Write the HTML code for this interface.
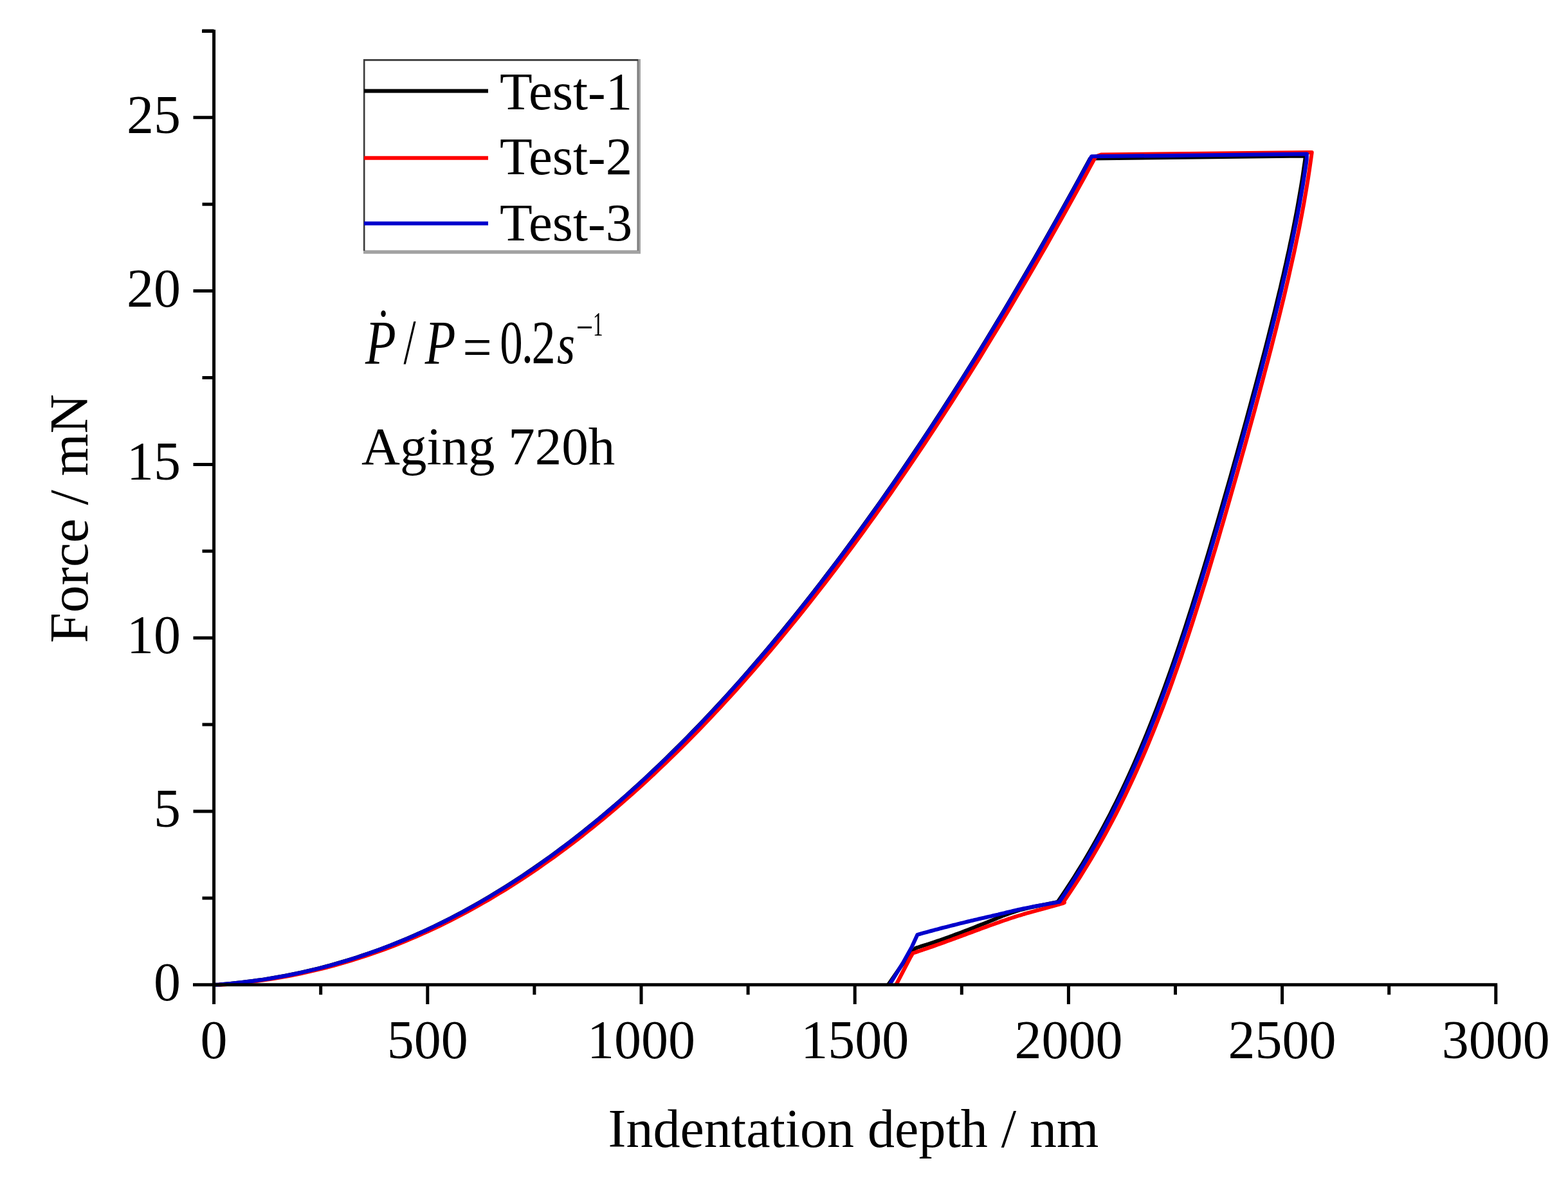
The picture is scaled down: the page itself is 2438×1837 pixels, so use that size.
<!DOCTYPE html>
<html><head><meta charset="utf-8"><title>Force vs indentation depth</title>
<style>html,body{margin:0;padding:0;background:#fff;}svg{display:block;}</style>
</head><body>
<svg width="2438" height="1837" viewBox="0 0 2438 1837">
<rect width="2438" height="1837" fill="#fff"/>
<g fill="none" stroke-width="6" stroke-linejoin="round" stroke-linecap="butt">
<path stroke="#000" d="M332.1 1531.8L340.7 1531.5L349.2 1530.8L357.8 1530.0L366.4 1529.1L375.0 1528.2L383.5 1527.1L392.1 1526.0L400.7 1524.8L409.2 1523.6L417.8 1522.2L426.4 1520.8L435.0 1519.3L443.5 1517.7L452.1 1516.0L460.7 1514.3L469.2 1512.4L477.8 1510.5L486.4 1508.4L495.0 1506.3L503.5 1504.1L512.1 1501.9L520.7 1499.5L529.2 1497.0L537.8 1494.5L546.4 1491.8L555.0 1489.1L563.5 1486.2L572.1 1483.3L580.7 1480.3L589.2 1477.2L597.8 1474.0L606.4 1470.7L615.0 1467.3L623.5 1463.8L632.1 1460.2L640.7 1456.5L649.2 1452.8L657.8 1448.9L666.4 1444.9L675.0 1440.9L683.5 1436.7L692.1 1432.4L700.7 1428.1L709.2 1423.6L717.8 1419.1L726.4 1414.4L735.0 1409.6L743.5 1404.8L752.1 1399.8L760.7 1394.8L769.2 1389.6L777.8 1384.4L786.4 1379.0L795.0 1373.6L803.5 1368.0L812.1 1362.4L820.7 1356.6L829.2 1350.8L837.8 1344.8L846.4 1338.8L855.0 1332.6L863.5 1326.4L872.1 1320.0L880.7 1313.6L889.2 1307.0L897.8 1300.3L906.4 1293.6L915.0 1286.7L923.5 1279.8L932.1 1272.7L940.7 1265.5L949.2 1258.3L957.8 1250.9L966.4 1243.4L975.0 1235.9L983.5 1228.2L992.1 1220.4L1000.7 1212.6L1009.2 1204.6L1017.8 1196.5L1026.4 1188.3L1035.0 1180.1L1043.5 1171.7L1052.1 1163.2L1060.7 1154.6L1069.2 1146.0L1077.8 1137.2L1086.4 1128.3L1095.0 1119.3L1103.5 1110.2L1112.1 1101.1L1120.7 1091.8L1129.3 1082.4L1137.8 1072.9L1146.4 1063.4L1155.0 1053.7L1163.5 1043.9L1172.1 1034.0L1180.7 1024.0L1189.3 1014.0L1197.8 1003.8L1206.4 993.5L1215.0 983.2L1223.5 972.7L1232.1 962.1L1240.7 951.4L1249.3 940.7L1257.8 929.8L1266.4 918.9L1275.0 907.8L1283.5 896.6L1292.1 885.4L1300.7 874.0L1309.3 862.6L1317.8 851.0L1326.4 839.4L1335.0 827.6L1343.5 815.8L1352.1 803.8L1360.7 791.8L1369.3 779.7L1377.8 767.4L1386.4 755.1L1395.0 742.7L1403.5 730.2L1412.1 717.5L1420.7 704.8L1429.3 692.0L1437.8 679.1L1446.4 666.1L1455.0 653.0L1463.5 639.8L1472.1 626.5L1480.7 613.1L1489.3 599.6L1497.8 586.0L1506.4 572.3L1515.0 558.5L1523.5 544.7L1532.1 530.7L1540.7 516.6L1549.3 502.4L1557.8 488.2L1566.4 473.8L1575.0 459.3L1583.5 444.8L1592.1 430.1L1600.7 415.3L1609.3 400.5L1617.8 385.5L1626.4 370.5L1635.0 355.3L1643.5 340.1L1652.1 324.7L1660.7 309.3L1669.3 293.7L1677.8 278.1L1686.4 262.3L1695.0 246.5L2027.0 242.5L2030.0 242.5L2028.6 252.3L2027.2 262.0L2025.8 271.8L2024.3 281.5L2022.7 291.3L2021.0 301.0L2019.3 310.8L2017.6 320.5L2015.8 330.3L2013.9 340.0L2012.0 349.8L2010.1 359.5L2008.1 369.3L2006.0 379.0L2004.0 388.8L2001.8 398.5L1999.7 408.3L1997.5 418.0L1995.3 427.8L1993.0 437.5L1990.8 447.3L1988.4 457.0L1986.1 466.8L1983.7 476.6L1981.4 486.3L1978.9 496.1L1976.5 505.8L1974.0 515.6L1971.6 525.3L1969.1 535.1L1966.6 544.8L1964.0 554.6L1961.5 564.3L1958.9 574.1L1956.4 583.8L1953.8 593.6L1951.2 603.3L1948.5 613.1L1945.9 622.8L1943.3 632.6L1940.6 642.3L1938.0 652.1L1935.3 661.8L1932.6 671.6L1929.9 681.3L1927.2 691.1L1924.5 700.8L1921.8 710.6L1919.0 720.4L1916.3 730.1L1913.6 739.9L1910.8 749.6L1908.0 759.4L1905.2 769.1L1902.4 778.9L1899.6 788.6L1896.8 798.4L1894.0 808.1L1891.2 817.9L1888.3 827.6L1885.4 837.4L1882.6 847.1L1879.7 856.9L1876.8 866.6L1873.8 876.4L1870.9 886.1L1867.9 895.9L1864.9 905.6L1861.9 915.4L1858.9 925.1L1855.8 934.9L1852.8 944.7L1849.6 954.4L1846.5 964.2L1843.4 973.9L1840.2 983.7L1836.9 993.4L1833.7 1003.2L1830.4 1012.9L1827.1 1022.7L1823.7 1032.4L1820.3 1042.2L1816.8 1051.9L1813.3 1061.7L1809.8 1071.4L1806.2 1081.2L1802.6 1090.9L1798.9 1100.7L1795.2 1110.4L1791.4 1120.2L1787.5 1129.9L1783.6 1139.7L1779.6 1149.4L1775.5 1159.2L1771.4 1168.9L1767.2 1178.7L1763.0 1188.5L1758.6 1198.2L1754.2 1208.0L1749.7 1217.7L1745.1 1227.5L1740.4 1237.2L1735.7 1247.0L1730.8 1256.7L1725.9 1266.5L1720.8 1276.2L1715.7 1286.0L1710.4 1295.7L1705.0 1305.5L1699.5 1315.2L1693.9 1325.0L1688.2 1334.7L1682.4 1344.5L1676.4 1354.2L1670.3 1364.0L1664.1 1373.7L1657.7 1383.5L1651.2 1393.2L1644.5 1403.0L1641.9 1403.5L1638.5 1404.2L1634.4 1405.0L1629.9 1405.9L1625.0 1406.9L1619.8 1407.9L1614.6 1409.0L1609.4 1410.0L1604.3 1411.1L1599.6 1412.1L1595.3 1413.1L1591.5 1414.0L1588.2 1414.9L1585.0 1415.7L1582.1 1416.6L1579.4 1417.4L1576.8 1418.3L1574.3 1419.1L1572.0 1419.9L1569.8 1420.7L1567.7 1421.4L1565.7 1422.2L1563.8 1422.8L1562.0 1423.5L1560.4 1424.1L1559.1 1424.5L1558.1 1424.9L1557.3 1425.3L1556.6 1425.6L1555.9 1425.9L1555.1 1426.2L1554.3 1426.6L1553.2 1427.0L1551.8 1427.6L1550.1 1428.3L1548.0 1429.2L1545.4 1430.2L1542.5 1431.4L1539.2 1432.7L1535.7 1434.2L1532.0 1435.7L1528.2 1437.2L1524.2 1438.8L1520.2 1440.4L1516.2 1442.0L1512.3 1443.6L1508.4 1445.1L1504.7 1446.5L1501.1 1447.9L1497.4 1449.3L1493.7 1450.7L1490.0 1452.1L1486.3 1453.4L1482.6 1454.8L1479.0 1456.2L1475.3 1457.5L1471.7 1458.8L1468.2 1460.1L1464.7 1461.3L1461.3 1462.5L1457.8 1463.7L1454.3 1464.9L1450.6 1466.1L1446.9 1467.3L1443.3 1468.5L1439.8 1469.7L1436.4 1470.7L1433.2 1471.7L1430.3 1472.7L1427.7 1473.5L1425.5 1474.2L1423.7 1474.8L1403.0 1500.0L1381.0 1531.8"/>
<path stroke="#f00" d="M339.1 1531.8L347.7 1531.5L356.3 1530.8L364.8 1530.0L373.4 1529.1L382.0 1528.1L390.6 1527.1L399.2 1526.0L407.8 1524.8L416.3 1523.6L424.9 1522.2L433.5 1520.8L442.1 1519.3L450.7 1517.7L459.2 1516.0L467.8 1514.2L476.4 1512.4L485.0 1510.4L493.6 1508.4L502.2 1506.3L510.7 1504.1L519.3 1501.8L527.9 1499.4L536.5 1496.9L545.1 1494.4L553.6 1491.7L562.2 1489.0L570.8 1486.1L579.4 1483.2L588.0 1480.2L596.6 1477.1L605.1 1473.9L613.7 1470.6L622.3 1467.2L630.9 1463.7L639.5 1460.1L648.0 1456.4L656.6 1452.6L665.2 1448.7L673.8 1444.7L682.4 1440.7L690.9 1436.5L699.5 1432.2L708.1 1427.8L716.7 1423.4L725.3 1418.8L733.9 1414.1L742.4 1409.4L751.0 1404.5L759.6 1399.6L768.2 1394.5L776.8 1389.3L785.3 1384.1L793.9 1378.7L802.5 1373.2L811.1 1367.7L819.7 1362.0L828.3 1356.2L836.8 1350.4L845.4 1344.4L854.0 1338.3L862.6 1332.2L871.2 1325.9L879.7 1319.5L888.3 1313.1L896.9 1306.5L905.5 1299.8L914.1 1293.0L922.7 1286.2L931.2 1279.2L939.8 1272.1L948.4 1264.9L957.0 1257.6L965.6 1250.3L974.1 1242.8L982.7 1235.2L991.3 1227.5L999.9 1219.7L1008.5 1211.8L1017.1 1203.8L1025.6 1195.7L1034.2 1187.5L1042.8 1179.2L1051.4 1170.9L1060.0 1162.4L1068.5 1153.8L1077.1 1145.1L1085.7 1136.3L1094.3 1127.4L1102.9 1118.4L1111.5 1109.3L1120.0 1100.1L1128.6 1090.8L1137.2 1081.4L1145.8 1071.9L1154.4 1062.3L1162.9 1052.6L1171.5 1042.8L1180.1 1032.9L1188.7 1022.9L1197.3 1012.8L1205.9 1002.6L1214.4 992.3L1223.0 981.9L1231.6 971.4L1240.2 960.8L1248.8 950.1L1257.3 939.3L1265.9 928.4L1274.5 917.4L1283.1 906.3L1291.7 895.2L1300.3 883.9L1308.8 872.5L1317.4 861.0L1326.0 849.4L1334.6 837.8L1343.2 826.0L1351.7 814.1L1360.3 802.2L1368.9 790.1L1377.5 777.9L1386.1 765.7L1394.6 753.3L1403.2 740.8L1411.8 728.3L1420.4 715.6L1429.0 702.9L1437.6 690.1L1446.1 677.1L1454.7 664.1L1463.3 650.9L1471.9 637.7L1480.5 624.4L1489.0 610.9L1497.6 597.4L1506.2 583.8L1514.8 570.1L1523.4 556.3L1532.0 542.3L1540.5 528.3L1549.1 514.2L1557.7 500.0L1566.3 485.7L1574.9 471.3L1583.4 456.8L1592.0 442.2L1600.6 427.5L1609.2 412.7L1617.8 397.8L1626.4 382.9L1634.9 367.8L1643.5 352.6L1652.1 337.3L1660.7 321.9L1669.3 306.4L1677.8 290.8L1686.4 275.2L1695.0 259.4L1703.6 243.5L1712.0 240.5L2039.0 237.0L2039.7 237.0L2038.4 246.8L2037.0 256.6L2035.6 266.4L2034.1 276.2L2032.5 286.0L2030.9 295.8L2029.2 305.6L2027.5 315.4L2025.7 325.2L2023.9 335.0L2022.0 344.8L2020.1 354.6L2018.1 364.4L2016.0 374.2L2014.0 384.0L2011.9 393.8L2009.7 403.6L2007.5 413.4L2005.3 423.2L2003.1 433.1L2000.8 442.9L1998.5 452.7L1996.2 462.5L1993.8 472.3L1991.4 482.1L1989.0 491.9L1986.5 501.7L1984.1 511.5L1981.6 521.3L1979.1 531.1L1976.6 540.9L1974.0 550.7L1971.5 560.5L1968.9 570.3L1966.3 580.1L1963.7 589.9L1961.1 599.7L1958.5 609.5L1955.9 619.3L1953.2 629.1L1950.6 638.9L1947.9 648.7L1945.2 658.5L1942.5 668.3L1939.8 678.1L1937.1 687.9L1934.4 697.7L1931.6 707.5L1928.9 717.3L1926.1 727.1L1923.4 736.9L1920.6 746.7L1917.8 756.5L1915.0 766.3L1912.2 776.1L1909.4 785.9L1906.6 795.7L1903.8 805.5L1900.9 815.3L1898.0 825.2L1895.2 835.0L1892.3 844.8L1889.4 854.6L1886.4 864.4L1883.5 874.2L1880.5 884.0L1877.6 893.8L1874.6 903.6L1871.5 913.4L1868.5 923.2L1865.4 933.0L1862.3 942.8L1859.2 952.6L1856.1 962.4L1852.9 972.2L1849.7 982.0L1846.5 991.8L1843.2 1001.6L1839.9 1011.4L1836.6 1021.2L1833.2 1031.0L1829.8 1040.8L1826.3 1050.6L1822.8 1060.4L1819.3 1070.2L1815.7 1080.0L1812.0 1089.8L1808.3 1099.6L1804.5 1109.4L1800.7 1119.2L1796.9 1129.0L1792.9 1138.8L1788.9 1148.6L1784.9 1158.4L1780.7 1168.2L1776.5 1178.0L1772.2 1187.8L1767.9 1197.6L1763.4 1207.4L1758.9 1217.3L1754.3 1227.1L1749.6 1236.9L1744.8 1246.7L1740.0 1256.5L1735.0 1266.3L1729.9 1276.1L1724.7 1285.9L1719.4 1295.7L1714.0 1305.5L1708.5 1315.3L1702.9 1325.1L1697.1 1334.9L1691.2 1344.7L1685.2 1354.5L1679.1 1364.3L1672.8 1374.1L1666.4 1383.9L1659.9 1393.7L1653.2 1403.5L1653.1 1403.6L1653.4 1403.6L1653.7 1403.6L1654.2 1403.6L1654.6 1403.7L1654.8 1403.8L1654.9 1403.9L1654.7 1404.1L1654.1 1404.4L1653.1 1404.8L1651.5 1405.3L1649.3 1406.0L1646.3 1406.9L1642.6 1407.9L1638.3 1409.1L1633.5 1410.4L1628.3 1411.8L1622.9 1413.3L1617.3 1414.8L1611.7 1416.3L1606.2 1417.8L1600.9 1419.3L1596.0 1420.7L1591.5 1422.0L1587.4 1423.3L1583.4 1424.5L1579.6 1425.7L1575.9 1426.9L1572.4 1428.0L1568.8 1429.2L1565.4 1430.4L1562.0 1431.5L1558.5 1432.7L1555.1 1433.9L1551.6 1435.2L1548.0 1436.4L1544.4 1437.7L1540.8 1439.0L1537.2 1440.3L1533.6 1441.6L1529.9 1442.9L1526.3 1444.3L1522.7 1445.6L1519.1 1446.9L1515.5 1448.3L1511.9 1449.6L1508.3 1451.0L1504.7 1452.3L1501.1 1453.6L1497.5 1455.0L1493.8 1456.3L1490.2 1457.7L1486.6 1459.0L1482.9 1460.3L1479.3 1461.7L1475.7 1463.0L1472.1 1464.3L1468.5 1465.6L1464.9 1466.9L1461.3 1468.2L1457.6 1469.5L1453.7 1470.9L1449.7 1472.3L1445.6 1473.7L1441.6 1475.1L1437.6 1476.4L1433.8 1477.8L1430.1 1479.0L1426.8 1480.1L1423.9 1481.1L1421.3 1482.0L1419.3 1482.7L1415.0 1490.0L1393.3 1531.8"/>
<path stroke="#00c" d="M332.6 1531.8L341.2 1531.5L349.8 1530.8L358.3 1530.0L366.9 1529.1L375.5 1528.1L384.1 1527.1L392.7 1526.0L401.3 1524.8L409.8 1523.6L418.4 1522.2L427.0 1520.8L435.6 1519.3L444.2 1517.7L452.8 1516.0L461.3 1514.2L469.9 1512.4L478.5 1510.4L487.1 1508.4L495.7 1506.3L504.2 1504.1L512.8 1501.8L521.4 1499.4L530.0 1496.9L538.6 1494.4L547.2 1491.7L555.7 1489.0L564.3 1486.1L572.9 1483.2L581.5 1480.2L590.1 1477.1L598.7 1473.8L607.2 1470.5L615.8 1467.1L624.4 1463.6L633.0 1460.1L641.6 1456.4L650.1 1452.6L658.7 1448.7L667.3 1444.7L675.9 1440.6L684.5 1436.5L693.1 1432.2L701.6 1427.8L710.2 1423.4L718.8 1418.8L727.4 1414.1L736.0 1409.4L744.6 1404.5L753.1 1399.5L761.7 1394.5L770.3 1389.3L778.9 1384.0L787.5 1378.7L796.0 1373.2L804.6 1367.7L813.2 1362.0L821.8 1356.2L830.4 1350.4L839.0 1344.4L847.5 1338.3L856.1 1332.1L864.7 1325.9L873.3 1319.5L881.9 1313.0L890.5 1306.5L899.0 1299.8L907.6 1293.0L916.2 1286.1L924.8 1279.1L933.4 1272.1L941.9 1264.9L950.5 1257.6L959.1 1250.2L967.7 1242.7L976.3 1235.1L984.9 1227.5L993.4 1219.7L1002.0 1211.8L1010.6 1203.8L1019.2 1195.7L1027.8 1187.5L1036.4 1179.2L1044.9 1170.8L1053.5 1162.3L1062.1 1153.7L1070.7 1145.0L1079.3 1136.2L1087.9 1127.3L1096.4 1118.3L1105.0 1109.2L1113.6 1100.0L1122.2 1090.7L1130.8 1081.3L1139.3 1071.8L1147.9 1062.2L1156.5 1052.5L1165.1 1042.7L1173.7 1032.8L1182.3 1022.8L1190.8 1012.7L1199.4 1002.5L1208.0 992.2L1216.6 981.8L1225.2 971.3L1233.8 960.7L1242.3 950.0L1250.9 939.2L1259.5 928.3L1268.1 917.3L1276.7 906.2L1285.2 895.1L1293.8 883.8L1302.4 872.4L1311.0 860.9L1319.6 849.3L1328.2 837.7L1336.7 825.9L1345.3 814.0L1353.9 802.0L1362.5 790.0L1371.1 777.8L1379.7 765.5L1388.2 753.2L1396.8 740.7L1405.4 728.2L1414.0 715.5L1422.6 702.8L1431.1 689.9L1439.7 677.0L1448.3 663.9L1456.9 650.8L1465.5 637.6L1474.1 624.2L1482.6 610.8L1491.2 597.3L1499.8 583.6L1508.4 569.9L1517.0 556.1L1525.6 542.2L1534.1 528.2L1542.7 514.1L1551.3 499.9L1559.9 485.6L1568.5 471.1L1577.0 456.6L1585.6 442.0L1594.2 427.4L1602.8 412.6L1611.4 397.7L1620.0 382.7L1628.5 367.6L1637.1 352.4L1645.7 337.1L1654.3 321.7L1662.9 306.2L1671.5 290.6L1680.0 275.0L1688.6 259.2L1697.2 243.3L2032.0 239.5L2031.6 249.3L2030.2 259.0L2028.7 268.8L2027.2 278.6L2025.7 288.4L2024.0 298.1L2022.3 307.9L2020.6 317.7L2018.8 327.4L2017.0 337.2L2015.1 347.0L2013.1 356.7L2011.1 366.5L2009.1 376.3L2007.0 386.1L2004.9 395.8L2002.8 405.6L2000.6 415.4L1998.4 425.1L1996.1 434.9L1993.9 444.7L1991.6 454.5L1989.2 464.2L1986.9 474.0L1984.5 483.8L1982.1 493.5L1979.6 503.3L1977.2 513.1L1974.7 522.8L1972.2 532.6L1969.7 542.4L1967.2 552.2L1964.6 561.9L1962.1 571.7L1959.5 581.5L1956.9 591.2L1954.3 601.0L1951.7 610.8L1949.0 620.6L1946.4 630.3L1943.7 640.1L1941.1 649.9L1938.4 659.6L1935.7 669.4L1933.0 679.2L1930.3 688.9L1927.6 698.7L1924.9 708.5L1922.1 718.3L1919.4 728.0L1916.6 737.8L1913.9 747.6L1911.1 757.3L1908.3 767.1L1905.5 776.9L1902.7 786.7L1899.9 796.4L1897.1 806.2L1894.2 816.0L1891.4 825.7L1888.5 835.5L1885.6 845.3L1882.7 855.0L1879.8 864.8L1876.9 874.6L1873.9 884.4L1870.9 894.1L1868.0 903.9L1864.9 913.7L1861.9 923.4L1858.9 933.2L1855.8 943.0L1852.7 952.8L1849.5 962.5L1846.4 972.3L1843.2 982.1L1840.0 991.8L1836.7 1001.6L1833.4 1011.4L1830.1 1021.1L1826.7 1030.9L1823.3 1040.7L1819.9 1050.5L1816.4 1060.2L1812.8 1070.0L1809.2 1079.8L1805.6 1089.5L1801.9 1099.3L1798.2 1109.1L1794.4 1118.9L1790.5 1128.6L1786.6 1138.4L1782.6 1148.2L1778.6 1157.9L1774.5 1167.7L1770.3 1177.5L1766.0 1187.2L1761.7 1197.0L1757.2 1206.8L1752.7 1216.6L1748.2 1226.3L1743.5 1236.1L1738.7 1245.9L1733.9 1255.6L1728.9 1265.4L1723.9 1275.2L1718.7 1285.0L1713.4 1294.7L1708.1 1304.5L1702.6 1314.3L1697.0 1324.0L1691.3 1333.8L1685.4 1343.6L1679.4 1353.3L1673.3 1363.1L1667.1 1372.9L1660.7 1382.7L1654.2 1392.4L1647.6 1402.2L1647.5 1402.7L1643.8 1403.4L1639.5 1404.2L1634.6 1405.1L1629.3 1406.1L1623.7 1407.1L1617.9 1408.2L1612.2 1409.3L1606.5 1410.3L1601.1 1411.4L1596.1 1412.4L1591.5 1413.3L1587.3 1414.2L1583.4 1415.0L1579.5 1415.9L1575.9 1416.7L1572.3 1417.6L1568.8 1418.4L1565.3 1419.2L1561.9 1420.1L1558.5 1420.9L1555.1 1421.7L1551.6 1422.6L1548.0 1423.4L1544.4 1424.2L1540.8 1425.1L1537.2 1425.9L1533.6 1426.7L1529.9 1427.6L1526.3 1428.4L1522.7 1429.2L1519.1 1430.1L1515.5 1430.9L1511.9 1431.8L1508.3 1432.6L1504.7 1433.5L1501.1 1434.4L1497.4 1435.3L1493.7 1436.2L1489.9 1437.1L1486.2 1438.1L1482.5 1439.0L1478.8 1439.9L1475.1 1440.8L1471.5 1441.8L1468.0 1442.7L1464.6 1443.5L1461.3 1444.4L1458.0 1445.3L1454.6 1446.2L1451.2 1447.1L1447.8 1448.0L1444.4 1448.9L1441.2 1449.8L1438.1 1450.6L1435.2 1451.4L1432.6 1452.1L1430.2 1452.8L1428.2 1453.4L1426.5 1453.8L1417.9 1472.6L1403.4 1498.6L1383.1 1531.8"/>
</g>
<path fill="none" stroke="#000" stroke-width="5" d="M332.6 46.2 V1562 M300 1531.8 H2328.2 M314 48.4 H332.6 M332.6 1531.8 V1562 M664.8 1531.8 V1562 M997.0 1531.8 V1562 M1329.2 1531.8 V1562 M1661.4 1531.8 V1562 M1993.6 1531.8 V1562 M2325.8 1531.8 V1562 M498.7 1531.8 V1547.3 M830.9 1531.8 V1547.3 M1163.1 1531.8 V1547.3 M1495.3 1531.8 V1547.3 M1827.5 1531.8 V1547.3 M2159.7 1531.8 V1547.3 M300.5 1531.8 H332.6 M300.5 1262.0 H332.6 M300.5 992.2 H332.6 M300.5 722.4 H332.6 M300.5 452.6 H332.6 M300.5 182.8 H332.6 M314.5 1396.9 H332.6 M314.5 1127.1 H332.6 M314.5 857.3 H332.6 M314.5 587.5 H332.6 M314.5 317.7 H332.6 M314.5 47.9 H332.6"/>
<g font-family="'Liberation Serif','Times New Roman',serif" font-size="84" fill="#000">
<text x="281" y="1555.8" text-anchor="end">0</text>
<text x="281" y="1286.0" text-anchor="end">5</text>
<text x="281" y="1016.2" text-anchor="end">10</text>
<text x="281" y="746.4" text-anchor="end">15</text>
<text x="281" y="476.6" text-anchor="end">20</text>
<text x="281" y="206.8" text-anchor="end">25</text>
<text x="332.6" y="1645.5" text-anchor="middle">0</text>
<text x="664.8" y="1645.5" text-anchor="middle">500</text>
<text x="997.0" y="1645.5" text-anchor="middle">1000</text>
<text x="1329.2" y="1645.5" text-anchor="middle">1500</text>
<text x="1661.4" y="1645.5" text-anchor="middle">2000</text>
<text x="1993.6" y="1645.5" text-anchor="middle">2500</text>
<text x="2325.8" y="1645.5" text-anchor="middle">3000</text>
</g>
<text font-family="'Liberation Serif','Times New Roman',serif" font-size="84" x="1327" y="1784" text-anchor="middle">Indentation depth / nm</text>
<text font-family="'Liberation Serif','Times New Roman',serif" font-size="85" transform="translate(135.6 806.6) rotate(-90)" text-anchor="middle">Force / mN</text>
<path fill="none" stroke="#a2a2a2" stroke-width="5.6" d="M565 392 H996 M993.2 92 V394.8"/>
<path fill="none" stroke="#7a7a7a" stroke-width="2.2" d="M992 92 V390"/>
<path fill="none" stroke="#3a3a3a" stroke-width="2.6" d="M566.2 390 V93.4 H992"/>
<g stroke-width="6">
<path stroke="#000" d="M566 141.4 H759"/>
<path stroke="#f00" d="M566 245.8 H759"/>
<path stroke="#00c" d="M566 347.4 H759"/>
</g>
<g font-family="'Liberation Serif','Times New Roman',serif" font-size="83" fill="#000">
<text x="777" y="169.9">Test-1</text>
<text x="777" y="271.4">Test-2</text>
<text x="777" y="374.3">Test-3</text>
</g>
<g font-family="'Liberation Serif','Times New Roman',serif" fill="#000">
<text transform="translate(568.09 565.80) scale(0.800 1)" font-size="97.7" font-style="italic">P</text>
<text transform="translate(584.33 546.78) scale(0.720 1)" font-size="98.0">&#729;</text>
<text transform="translate(627.40 565.00) scale(0.687 1)" font-size="100.0">/</text>
<text transform="translate(660.79 565.80) scale(0.800 1)" font-size="97.7" font-style="italic">P</text>
<text transform="translate(719.49 571.26) scale(0.872 1)" font-size="92.0">=</text>
<text transform="translate(777.36 564.85) scale(0.749 1)" font-size="94.7">0</text>
<text transform="translate(810.76 564.16) scale(0.750 1)" font-size="98.0">.</text>
<text transform="translate(826.55 565.00) scale(0.779 1)" font-size="95.6">2</text>
<text transform="translate(866.12 564.92) scale(0.820 1)" font-size="87.7" font-style="italic">s</text>
<text transform="translate(895.65 529.10) scale(0.785 1)" font-size="60.0">&#8722;</text>
<text transform="translate(922.10 522.40) scale(0.591 1)" font-size="52.7">1</text>
</g>
<text font-family="'Liberation Serif','Times New Roman',serif" font-size="83" x="562" y="722">Aging 720h</text>
</svg>
</body></html>
